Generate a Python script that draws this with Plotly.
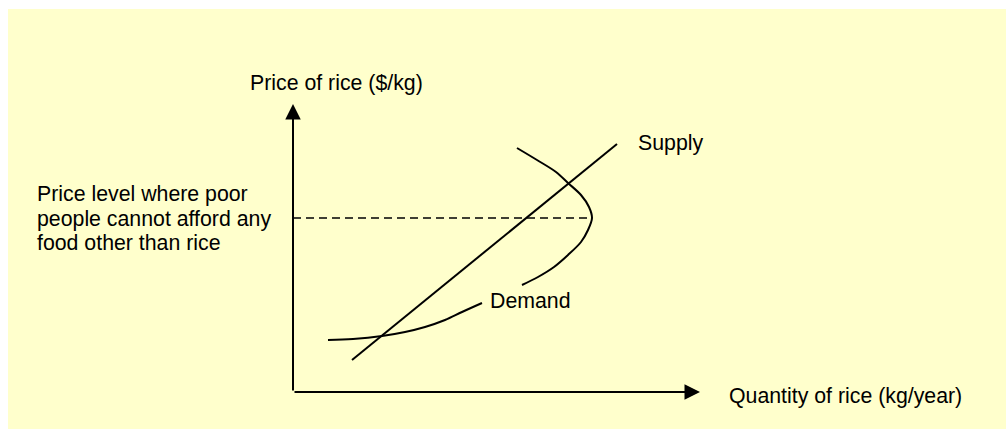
"""Rice market sketch: supply vs backward-bending demand."""

import plotly.graph_objects as go

# quantity / price in sketch units (origin = corner of the axes)
supply_q = [59, 324]
supply_p = [32, 248]

demand_low_q = [35, 60, 89, 112, 132, 152, 169, 189]
demand_low_p = [52, 53, 56, 60, 65, 72, 80, 89]

demand_up_q = [229, 245, 261, 275, 288, 295, 299, 296, 288, 275, 263, 244, 224]
demand_up_p = [107, 115, 125, 137, 150, 162, 174, 185, 197, 209, 220, 232, 244]

poor_level_q = [0, 299]
poor_level_p = [174, 174]

axis_q_max = 407
axis_p_max = 288

note_lines = ['Price level where poor', 'people cannot afford any', 'food other than rice']
note_p = [198, 173, 149]

FONT = 'Arial, Liberation Sans, sans-serif'
FONT_SIZE = 21.3
line_style = dict(color='black', width=2)

fig = go.Figure()
fig.add_trace(go.Scatter(x=supply_q, y=supply_p, mode='lines', line=line_style))
fig.add_trace(go.Scatter(x=demand_low_q, y=demand_low_p, mode='lines',
                         line=dict(color='black', width=2, shape='spline', smoothing=1)))
fig.add_trace(go.Scatter(x=demand_up_q, y=demand_up_p, mode='lines',
                         line=dict(color='black', width=2, shape='spline', smoothing=0.9)))
fig.add_trace(go.Scatter(x=poor_level_q, y=poor_level_p, mode='lines',
                         line=dict(color='black', width=1.7, dash='8px,5px')))

annotations = []
# axes drawn as arrows
for tip_x, tip_y in [(axis_q_max, 0), (0, axis_p_max)]:
    annotations.append(dict(
        x=tip_x, y=tip_y, ax=0, ay=0, xref='x', yref='y', axref='x', ayref='y',
        text='', showarrow=True, arrowhead=2, arrowwidth=2, arrowsize=1.55, arrowcolor='black',
    ))

def label(text, x, y):
    return dict(x=x, y=y, xref='x', yref='y', text=text, showarrow=False,
                xanchor='left', yanchor='middle', font=dict(family=FONT, size=FONT_SIZE, color='black'))

annotations.append(label('Price of rice ($/kg)', -45, 309))
annotations.append(label('Quantity of rice (kg/year)', 434, -4))
annotations.append(label('Supply', 343, 249))
annotations.append(label('Demand', 195, 91))
for txt, p in zip(note_lines, note_p):
    annotations.append(label(txt, -258, p))

fig.update_layout(
    width=998,
    height=420,
    margin=dict(l=0, r=0, t=0, b=0),
    paper_bgcolor='#FFFFCC',
    plot_bgcolor='#FFFFCC',
    showlegend=False,
    xaxis=dict(range=[-285, 713], visible=False, fixedrange=True),
    yaxis=dict(range=[-37, 383], visible=False, fixedrange=True),
    annotations=annotations,
)

# white border only on the top/left, chart runs to the window edge elsewhere
fig.write_html('out.html', config={'responsive': False},
               post_script="document.body.style.margin = '9px 0 0 8px';")
